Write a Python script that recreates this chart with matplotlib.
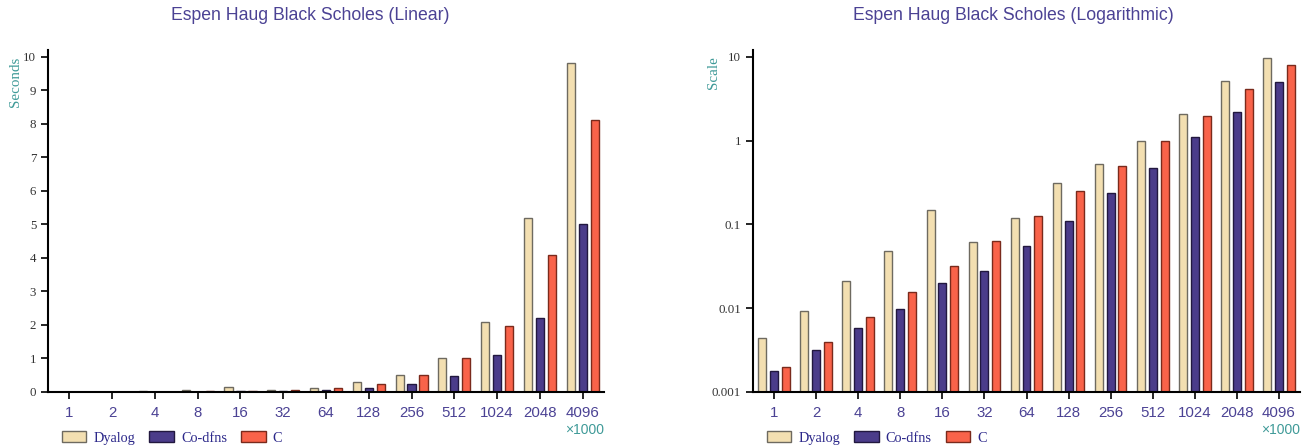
import numpy as np
import matplotlib
matplotlib.use("Agg")
import matplotlib.pyplot as plt

sizes = ["1", "2", "4", "8", "16", "32", "64", "128", "256", "512", "1024", "2048", "4096"]
dyalog = [0.0044, 0.0092, 0.021, 0.048, 0.147, 0.061, 0.118, 0.31, 0.52, 1.0, 2.08, 5.2, 9.8]
codfns = [0.0018, 0.0032, 0.0058, 0.0098, 0.020, 0.028, 0.056, 0.11, 0.235, 0.47, 1.1, 2.2, 5.0]
c_vals = [0.002, 0.0039, 0.0078, 0.0155, 0.032, 0.063, 0.127, 0.25, 0.5, 1.0, 1.98, 4.1, 8.1]

series = [
    ("Dyalog", dyalog, "#f3dfb1", "#6e6a60"),
    ("Co-dfns", codfns, "#4b3c8a", "#22183f"),
    ("C", c_vals, "#f9634a", "#7a2a1c"),
]

purple = "#4b4294"
teal = "#3f9a98"
legend_col = "#2c288a"

fig = plt.figure(figsize=(13.07, 4.46), dpi=100)
W, H = 1307, 446


def make_axes(left, right, top, bottom):
  return fig.add_axes([left / W, 1 - bottom / H, (right - left) / W, (bottom - top) / H])


def style(ax, ylab, lab_xy):
  x = np.arange(len(sizes))
  w = 0.19
  off = 0.28
  for i, (name, vals, fc, ec) in enumerate(series):
    ax.bar(x + (i - 1) * off, vals, width=w, color=fc, edgecolor=ec, linewidth=1, label=name)
  ax.set_xlim(-0.5, len(sizes) - 0.5)
  ax.set_xticks(x)
  ax.set_xticklabels(sizes, fontsize=10.8, color=purple, fontfamily="Liberation Sans")
  for s in ["top", "right"]:
    ax.spines[s].set_visible(False)
  for s in ["left", "bottom"]:
    ax.spines[s].set_linewidth(1.5)
  ax.tick_params(axis="x", length=5, width=1.2, pad=5)
  ax.tick_params(axis="y", length=5, width=1.2, labelsize=9.3, labelcolor="#333333")
  ax.set_ylabel(ylab, fontsize=10.8, color=teal, fontfamily="Liberation Serif")
  ax.yaxis.set_label_coords(*lab_xy)
  ax.text(1.0, -0.111, "×1000", transform=ax.transAxes, ha="right", va="center",
          fontsize=10, color=teal, fontfamily="Liberation Sans")
  leg = ax.legend(loc="center left", bbox_to_anchor=(0.025, -0.135), ncol=3, frameon=False,
                  handlelength=1.7, handleheight=0.8, handletextpad=0.5,
                  columnspacing=1.0, borderpad=0, borderaxespad=0,
                  prop={"family": "Liberation Serif", "size": 10.3})
  for t in leg.get_texts():
    t.set_color(legend_col)


# linear
ax1 = make_axes(48, 604, 50, 392)
style(ax1, "Seconds", (-0.046, 0.906))
ax1.set_ylim(0, 10.2)
ax1.set_yticks(range(0, 11))
ax1.set_yticklabels([str(v) for v in range(0, 11)], fontfamily="Liberation Serif")

# log
ax2 = make_axes(753, 1300, 50, 392)
ax2.set_yscale("log")
style(ax2, "Scale", (-0.061, 0.933))
ax2.set_ylim(0.001, 12.1)
ax2.set_yticks([0.001, 0.01, 0.1, 1, 10])
ax2.set_yticklabels(["0.001", "0.01", "0.1", "1", "10"], fontfamily="Liberation Serif")
ax2.yaxis.set_minor_locator(matplotlib.ticker.NullLocator())

fig.text(310 / W, 1 - 15 / H, "Espen Haug Black Scholes (Linear)", ha="center", va="center",
         fontsize=12.7, color=purple, fontfamily="Liberation Sans")
fig.text(1013 / W, 1 - 15 / H, "Espen Haug Black Scholes (Logarithmic)", ha="center", va="center",
         fontsize=12.7, color=purple, fontfamily="Liberation Sans")

fig.savefig("out.png", dpi=100)
